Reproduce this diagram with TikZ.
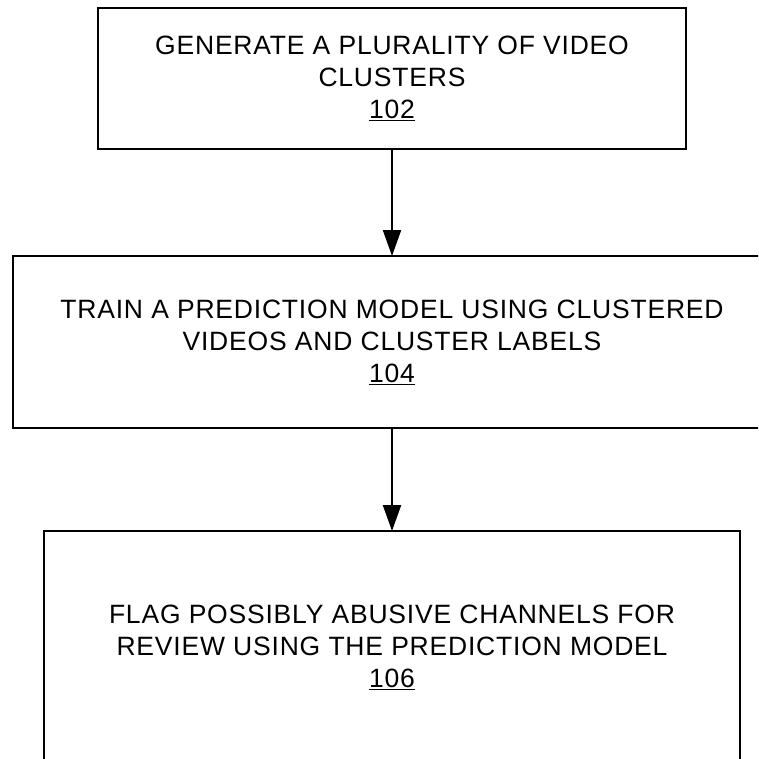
\documentclass[tikz,border=0pt]{standalone}
\usepackage{fontspec}
\setmainfont{Liberation Sans}[LetterSpace=3]
\usetikzlibrary{arrows.meta}
\begin{document}
\begin{tikzpicture}[x=1pt,y=1pt,
  stepbox/.style={draw=black, line width=2.2pt, inner sep=0pt, outer sep=0pt,
    align=center, font=\fontsize{26.5}{32}\selectfont},
  flow/.style={draw=black, line width=2.2pt, -{Triangle[length=26pt,width=18pt]}}]
\useasboundingbox (0,0) rectangle (758,-759);
\clip (0,0) rectangle (758,-759);
\node[stepbox, minimum width=588pt, minimum height=141pt] (b1) at (392,-78.5)
  {GENERATE A PLURALITY OF VIDEO\\CLUSTERS\\\underline{102}};
\node[stepbox, minimum width=758pt, minimum height=172pt] (b2) at (392,-342)
  {TRAIN A PREDICTION MODEL USING CLUSTERED\\VIDEOS AND CLUSTER LABELS\\\underline{104}};
\node[stepbox, minimum width=696pt, minimum height=232pt] (b3) at (392,-647)
  {FLAG POSSIBLY ABUSIVE CHANNELS FOR\\REVIEW USING THE PREDICTION MODEL\\\underline{106}};
\draw[flow] (b1.south) -- (b2.north);
\draw[flow] (b2.south) -- (b3.north);
\end{tikzpicture}
\end{document}
